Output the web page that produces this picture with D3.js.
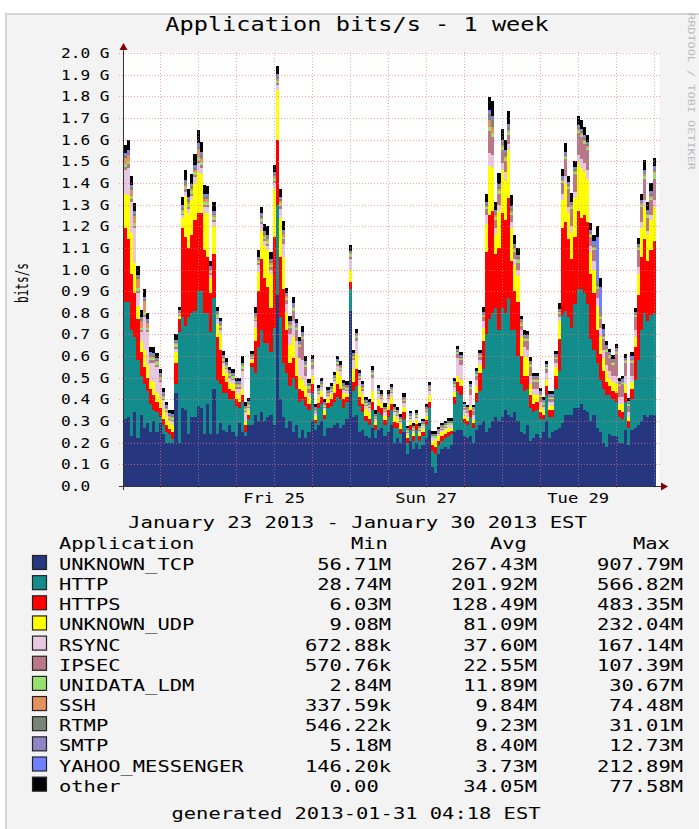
<!DOCTYPE html>
<html><head><meta charset="utf-8">
<script src="https://cdn.jsdelivr.net/npm/d3@7"></script>
<style>
html,body{margin:0;padding:0;background:#fff;}
svg{display:block;}
text{font-family:"DejaVu Sans Mono",monospace;fill:#000;}
</style></head><body>
<script>
// ---------------- DATA (Mbit/s, one value per hour, 168 hours) ----------------
const startTime = Date.UTC(2013,0,23,12,30);
const endTime   = Date.UTC(2013,0,30,12,30);

const tcp = [
310,320,230,340,220,330,270,290,250,300,250,290,
240,200,200,200,430,200,360,350,240,320,320,370,
360,240,380,240,450,240,290,260,250,280,250,230,
290,250,230,280,280,330,300,340,300,320,330,280,
880,400,320,270,300,250,280,220,260,220,250,300,
260,280,300,230,270,270,280,290,270,280,310,810,
320,330,250,260,230,220,270,220,260,270,230,250,
280,200,220,200,250,150,210,170,200,170,190,220,
260,90,60,150,170,180,170,190,250,260,260,230,
220,230,200,260,280,300,250,270,300,320,300,320,
350,330,320,340,300,250,240,280,210,220,240,220,
250,300,220,250,260,270,290,330,330,330,360,360,
380,350,340,300,330,270,250,200,180,240,230,230,
200,200,260,190,260,270,280,300,330,320,330,330];
const http = [
540,530,490,350,360,180,200,150,130,50,90,30,
40,50,40,15,40,510,420,390,540,480,490,530,
540,560,420,470,420,250,180,170,180,120,150,140,
70,140,20,30,270,190,340,380,360,340,290,450,
420,380,250,250,160,250,170,170,140,150,100,130,
30,80,80,80,90,100,110,120,130,80,80,100,
120,130,120,80,70,60,80,40,80,60,50,70,
70,70,50,40,60,50,50,40,60,40,40,60,
100,70,90,40,40,40,60,50,130,180,160,60,
60,90,70,130,160,240,450,500,500,500,420,500,
450,540,400,380,300,220,200,170,150,120,110,90,
60,120,100,70,190,260,500,480,450,400,480,550,
530,540,500,380,300,300,240,250,240,180,170,160,
120,110,130,80,140,220,300,420,470,440,460,470];
const https = [
340,290,260,200,190,110,80,60,70,70,50,40,
30,30,25,35,100,60,410,410,320,360,420,360,
360,290,260,180,200,200,160,80,50,50,40,30,
30,30,30,20,20,150,260,330,300,260,200,420,
300,280,340,200,110,90,60,60,40,40,30,40,
15,25,30,20,25,30,40,60,50,40,20,30,
40,80,40,40,25,30,40,20,30,30,25,30,
30,25,20,25,30,20,20,20,25,20,20,25,
30,30,30,20,20,20,20,15,30,40,40,20,
20,30,20,40,80,130,380,480,470,250,380,440,
430,460,320,180,250,130,70,60,60,40,40,30,
20,40,30,30,60,150,400,410,360,320,310,360,
330,360,380,300,260,150,120,80,60,40,40,40,
30,30,40,30,50,150,300,340,340,280,300,330];
const udp = [
160,200,190,140,60,50,80,60,40,60,40,40,
40,40,30,30,50,10,50,190,160,160,170,190,
180,170,200,70,130,60,70,40,40,30,30,30,
30,30,20,15,10,60,90,130,150,170,160,220,
230,180,150,80,80,100,80,60,50,50,30,40,
20,25,30,20,20,25,40,60,60,30,15,60,
60,70,50,40,30,30,50,20,30,25,20,30,
30,30,20,20,25,15,20,15,20,15,15,20,
30,20,30,20,20,20,20,15,25,30,30,20,
15,20,15,30,40,60,130,230,200,90,170,200,
180,220,150,120,120,90,90,80,50,40,30,30,
20,30,20,20,40,80,130,180,120,120,180,220,
230,200,200,100,110,110,80,60,50,40,40,40,
30,40,40,20,30,50,100,130,150,120,140,160];
const rsync = [
110,130,140,160,60,40,150,150,80,90,120,80,
45,20,10,20,15,5,10,20,20,20,25,40,
30,30,30,15,20,20,20,20,20,20,20,20,
30,80,40,15,5,30,30,30,20,20,20,30,
20,40,60,40,50,70,80,80,90,50,20,30,
10,15,15,10,10,10,15,25,20,15,15,50,
40,60,30,20,15,20,60,10,25,15,15,20,
20,15,15,10,20,10,10,10,10,10,10,15,
20,10,10,10,10,10,10,10,20,80,70,20,
20,50,25,30,20,30,40,60,60,30,30,30,
40,30,30,30,30,30,40,40,40,30,30,20,
15,30,20,20,20,20,30,30,30,30,30,40,
40,40,40,30,40,40,40,40,30,30,30,40,
30,30,40,20,30,30,30,30,30,20,20,30];
const ipsec = [
15,15,15,12,10,10,12,10,10,10,10,10,
8,6,6,6,8,5,8,10,10,10,10,12,
12,10,10,8,10,8,8,8,6,6,6,6,
6,10,5,5,4,8,8,10,10,10,10,10,
10,15,20,20,30,50,50,50,100,40,20,20,
5,5,5,4,4,4,5,8,8,6,5,10,
10,15,8,6,5,5,15,4,6,5,5,5,
6,5,5,4,6,4,5,4,4,4,4,5,
6,4,4,4,4,4,4,4,8,20,20,8,
10,30,15,20,15,20,30,100,80,40,50,60,
50,40,30,30,30,20,30,40,40,30,30,20,
10,20,10,10,15,15,50,80,80,80,80,100,
100,90,90,40,50,40,40,50,60,60,50,100,
50,60,60,30,60,60,80,70,100,60,70,100];
const ldm = [
14,14,14,14,14,12,14,12,12,12,12,10,
10,10,10,10,12,8,10,12,12,12,14,14,
14,14,12,10,12,10,10,10,10,10,10,10,
10,12,10,10,8,10,10,12,12,12,12,12,
12,12,12,10,10,10,10,10,10,10,10,10,
8,8,8,8,8,8,8,8,8,8,8,10,
8,8,8,8,8,8,8,7,8,8,8,8,
8,8,8,8,8,7,7,7,7,7,7,7,
7,6,6,6,6,6,6,6,7,8,8,7,
7,7,7,7,7,8,10,20,20,12,12,14,
14,14,12,12,12,10,10,10,10,10,10,10,
8,8,8,8,8,8,10,10,10,10,10,12,
12,12,12,10,10,10,10,10,10,10,10,10,
8,8,8,8,8,8,10,10,12,10,12,24];
const ssh = [
25,30,30,30,40,30,50,20,8,6,5,5,
5,4,3,3,5,3,8,10,10,12,12,40,
20,12,12,5,8,5,5,5,5,4,4,4,
4,5,3,3,2,5,6,8,8,8,8,10,
10,10,10,6,6,6,5,5,5,5,4,4,
3,3,3,3,3,3,3,3,3,3,3,4,
3,3,3,3,2,2,3,2,2,2,2,2,
2,2,2,2,2,2,2,2,2,2,2,2,
2,2,2,2,2,2,2,2,2,3,3,2,
2,2,2,2,2,3,5,30,30,10,10,12,
12,12,10,8,8,6,5,5,5,4,4,4,
3,3,3,3,3,3,5,6,6,6,6,8,
8,8,8,6,6,6,6,5,5,5,4,4,
3,3,3,3,3,3,5,5,8,6,8,10];
const rtmp = [
10,10,10,10,10,8,8,8,6,6,6,6,
6,5,5,5,6,4,8,10,10,10,10,12,
12,10,10,6,8,6,6,5,5,5,5,5,
5,5,5,5,4,6,6,8,8,8,8,8,
8,8,8,6,6,6,6,5,5,5,5,5,
4,4,4,4,4,4,4,4,4,4,4,4,
4,4,4,4,4,4,4,3,4,4,4,4,
4,4,4,3,4,3,3,3,3,3,3,3,
4,3,3,3,3,3,3,3,3,4,4,3,
3,3,3,3,3,4,6,30,30,10,10,12,
12,12,10,8,8,6,5,5,5,5,5,5,
4,4,4,4,4,4,5,6,6,6,6,8,
8,8,8,6,6,6,6,5,5,5,5,5,
4,4,4,4,4,4,5,5,8,6,8,10];
const smtp = [
8,8,8,8,8,8,8,8,8,8,8,8,
7,7,6,6,7,6,8,8,8,8,8,8,
8,8,8,8,8,8,8,7,7,7,7,6,
6,6,6,6,5,7,7,8,8,8,8,8,
8,8,8,8,8,8,7,7,7,7,7,7,
6,6,6,6,6,6,6,6,6,6,6,6,
6,6,6,6,6,6,6,6,6,6,6,6,
6,6,6,6,6,6,6,6,6,6,6,6,
6,6,6,6,6,6,6,6,6,6,6,6,
6,6,6,6,6,6,7,8,8,8,8,8,
8,8,8,8,8,7,7,7,7,7,7,7,
6,6,6,6,6,6,7,7,7,7,7,8,
8,8,8,8,8,8,8,7,7,7,7,7,
6,6,6,6,6,6,7,7,8,8,8,8];
const yahoo = [
5,5,5,4,3,3,3,3,3,3,2,2,
2,2,2,2,2,2,4,4,4,5,5,8,
5,5,5,3,4,3,3,2,2,2,2,2,
2,2,2,2,2,3,3,3,3,3,3,3,
4,4,4,3,3,3,3,3,3,2,2,2,
2,2,2,2,2,2,2,2,2,2,2,2,
2,2,2,2,2,2,2,2,2,2,2,2,
2,2,2,2,2,2,2,2,2,2,2,2,
2,1,1,1,1,1,1,1,2,2,2,1,
1,2,1,2,2,2,3,10,10,4,4,4,
4,4,4,3,3,3,2,2,2,2,2,2,
2,2,2,2,2,2,3,3,3,3,3,3,
3,3,3,3,10,210,120,20,5,3,2,2,
2,2,2,2,10,3,3,3,5,3,5,5];
const other = [
40,45,40,40,40,30,35,30,25,25,20,20,
20,15,15,20,25,15,40,45,40,45,50,60,
50,40,40,25,40,15,15,15,15,15,15,15,
15,30,15,15,15,30,30,30,30,40,30,30,
40,35,40,20,20,30,20,20,30,20,15,15,
15,15,15,15,15,15,15,15,15,15,15,25,
15,15,15,15,15,15,15,15,15,15,15,15,
15,12,12,12,15,10,12,10,12,10,10,12,
15,10,10,10,10,10,10,10,15,15,15,12,
12,15,12,15,15,25,40,60,70,40,50,50,
50,60,50,40,30,15,20,15,15,15,15,15,
15,15,15,15,15,25,35,40,30,40,30,40,
40,40,30,30,30,50,40,20,20,15,15,20,
15,15,15,15,20,20,25,30,45,40,40,40];

const seriesNames = ["UNKNOWN_TCP","HTTP","HTTPS","UNKNOWN_UDP","RSYNC","IPSEC",
  "UNIDATA_LDM","SSH","RTMP","SMTP","YAHOO_MESSENGER","other"];
const seriesValues = [tcp,http,https,udp,rsync,ipsec,ldm,ssh,rtmp,smtp,yahoo,other];
const legendMin = ["56.71M","28.74M","6.03M","9.08M","672.88k","570.76k","2.84M","337.59k","546.22k","5.18M","146.20k","0.00"];
const legendAvg = ["267.43M","201.92M","128.49M","81.09M","37.60M","22.55M","11.89M","9.84M","9.23M","8.40M","3.73M","34.05M"];
const legendMax = ["907.79M","566.82M","483.35M","232.04M","167.14M","107.39M","30.67M","74.48M","31.01M","12.73M","212.89M","77.58M"];
const yTickValues = d3.range(0, 21).map(k => k / 10); // in G
const xLabelDays = [Date.UTC(2013,0,25,12), Date.UTC(2013,0,27,12), Date.UTC(2013,0,29,12)];
const titleText = "Application bits/s - 1 week";
const rangeText = "January 23 2013 - January 30 2013 EST";
const generatedText = "generated 2013-01-31 04:18 EST";

// ---------------- STYLE ----------------
const colors = ["#26367f","#138c8c","#ff0000","#ffff00","#e6c8e0","#b87888",
  "#98e070","#e69060","#768576","#8c86c6","#7080ff","#000000"];

const W = 699, H = 829;
const svg = d3.select("body").append("svg").attr("width", W).attr("height", H);
svg.append("rect").attr("width", W).attr("height", H).attr("fill", "#ffffff");
svg.append("rect").attr("x", 6).attr("y", 14).attr("width", W).attr("height", H)
  .attr("fill", "#f3f3f3").attr("stroke", "#d4d4d4").attr("stroke-width", 2);

const x = d3.scaleUtc().domain([new Date(startTime), new Date(endTime)]).range([123.7, 655.8]);
const y = d3.scaleLinear().domain([0, 2e9]).range([486, 53]);

// plot canvas
svg.append("rect").attr("x", 123.5).attr("y", 52).attr("width", 536).attr("height", 434).attr("fill", "#ffffff");

// rows
const rows = d3.range(168).map(i => {
  const r = {t: new Date(startTime + i * 3600e3)};
  seriesNames.forEach((n, k) => r[n] = seriesValues[k][i] * 1e6);
  return r;
});
const stacked = d3.stack().keys(seriesNames)(rows);
const area = d3.area().curve(d3.curveStepAfter)
  .x(d => x(d.t)).y0(d => y(d.y0)).y1(d => y(d.y1));
const gData = svg.append("g").attr("shape-rendering", "crispEdges");
stacked.forEach((layer, k) => {
  const pts = layer.map(d => ({t: d.data.t, y0: d[0], y1: d[1]}));
  const last = pts[pts.length - 1];
  pts.push({t: new Date(endTime), y0: last.y0, y1: last.y1});
  gData.append("path").attr("d", area(pts)).attr("fill", colors[k]);
});

// grid (drawn on top like rrdtool)
const gGrid = svg.append("g").attr("shape-rendering", "crispEdges");
yTickValues.filter(v => v > 0).forEach(v => {
  gGrid.append("line").attr("x1", 119).attr("x2", 661)
    .attr("y1", Math.round(y(v * 1e9)) + 0.5).attr("y2", Math.round(y(v * 1e9)) + 0.5)
    .attr("stroke", "#ff7070").attr("stroke-opacity", 0.65).attr("stroke-dasharray", "1,2");
});
const dayLines = d3.utcDay.range(new Date(startTime), new Date(endTime));
const noonLines = d3.utcHour.every(12).range(new Date(startTime), new Date(endTime)).filter(d => d.getUTCHours() === 12);
noonLines.forEach(d => {
  const xx = Math.round(x(d)) + 0.5;
  gGrid.append("line").attr("x1", xx).attr("x2", xx).attr("y1", 52).attr("y2", 489)
    .attr("stroke", "#a0a0a0").attr("stroke-opacity", 0.6).attr("stroke-dasharray", "1,2");
});
dayLines.forEach(d => {
  const xx = Math.round(x(d)) + 0.5;
  gGrid.append("line").attr("x1", xx).attr("x2", xx).attr("y1", 52).attr("y2", 490)
    .attr("stroke", "#ff7070").attr("stroke-opacity", 0.65).attr("stroke-dasharray", "1,2");
});

// axes
const gAx = svg.append("g").attr("shape-rendering", "crispEdges");
gAx.append("line").attr("x1", 119).attr("x2", 664).attr("y1", 486.5).attr("y2", 486.5).attr("stroke", "#333").attr("stroke-width", 1.2);
gAx.append("line").attr("x1", 123.5).attr("x2", 123.5).attr("y1", 490).attr("y2", 47).attr("stroke", "#333").attr("stroke-width", 1.2);
svg.append("path").attr("d", "M123.5,43 L119.5,50 L127.5,50 Z").attr("fill", "#800000");
svg.append("path").attr("d", "M668,486.5 L661,482.5 L661,490.5 Z").attr("fill", "#800000");

// text helper (glyphs of the reference are horizontally stretched)
function txt(s, xx, yy, size, pitch, anchor) {
  const t = svg.append("text").attr("x", xx).attr("y", yy).attr("font-size", size)
    .attr("textLength", s.length * pitch).attr("lengthAdjust", "spacingAndGlyphs").text(s);
  if (anchor) t.attr("text-anchor", anchor);
  return t;
}

// title
txt(titleText, 357, 31, 19, 14.2, "middle");

// y labels
const fmt = d3.format(".1f");
yTickValues.forEach(v => {
  const s = v === 0 ? "0.0" : fmt(v) + " G";
  txt(s, 61, y(v * 1e9) + 5, 13.5, 9.7);
});
// x labels
const fmtDay = d3.utcFormat("%a %d");
xLabelDays.forEach(d => txt(fmtDay(new Date(d)), x(new Date(d)), 503, 14, 10.3, "middle"));

// unit label
svg.append("text").attr("transform", "translate(28,283) rotate(-90) scale(1,1.3)")
  .attr("font-size", 14).attr("text-anchor", "middle").attr("textLength", 40)
  .attr("lengthAdjust", "spacingAndGlyphs").text("bits/s");

// watermark
svg.append("text").attr("transform", "translate(688,13) rotate(90)")
  .attr("font-size", 9.5).attr("fill", "#bbbbbb").style("fill", "#bbbbbb")
  .attr("textLength", 157).attr("lengthAdjust", "spacingAndGlyphs").text("RRDTOOL / TOBI OETIKER");

// range line
txt(rangeText, 357.5, 528, 16, 12.4, "middle");

// legend
const P = 12.3;
txt("Application", 59, 549, 16, P);
txt("Min", 351, 549, 16, P);
txt("Avg", 490, 549, 16, P);
txt("Max", 633, 549, 16, P);
seriesNames.forEach((n, k) => {
  const by = 570 + k * 20.15;
  svg.append("rect").attr("x", 32.5).attr("y", by - 14.5).attr("width", 14).attr("height", 14)
    .attr("fill", colors[k]).attr("stroke", "#222").attr("stroke-width", 1.2);
  txt(n, 59, by, 16, P);
  const mn = legendMin[k];
  const hasUnit = /[a-zA-Z]$/.test(mn);
  txt(mn, hasUnit ? 391 : 391 - P, by, 16, P, "end");
  txt(legendAvg[k], 537, by, 16, P, "end");
  txt(legendMax[k], 683, by, 16, P, "end");
});

txt(generatedText, 356, 819, 16, P, "middle");
</script>
</body></html>
